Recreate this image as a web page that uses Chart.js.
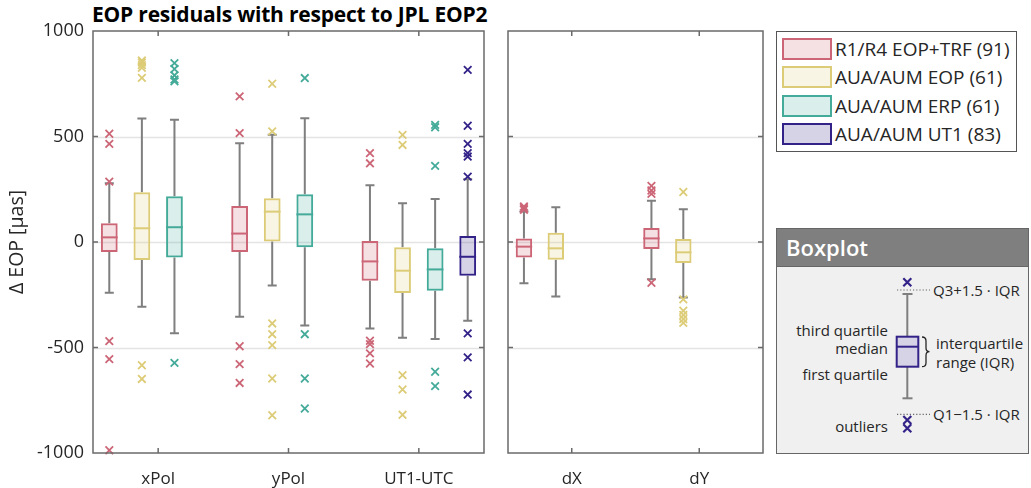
<!DOCTYPE html>
<html><head><meta charset="utf-8">
<script src="https://cdn.jsdelivr.net/npm/chart.js@4.4.0/dist/chart.umd.min.js"></script>
<style>
body{margin:0;width:1031px;height:488px;background:#fff;position:relative;overflow:hidden;font-family:"Open Sans",sans-serif;color:#262626}
#title{position:absolute;left:92px;top:0;font-weight:700;font-size:21px;color:#000;line-height:29px;white-space:nowrap;letter-spacing:-0.2px}
#c1wrap{position:absolute;left:0;top:0;width:490px;height:488px}
#c2wrap{position:absolute;left:500px;top:0;width:270px;height:488px}
#legend{position:absolute;left:776px;top:31px;width:241px;height:121px;border:1px solid #555;background:#fff;box-sizing:border-box}
.row{position:absolute;left:5px;height:22px;white-space:nowrap}
.sw{position:absolute;left:0;top:0;width:50px;height:22px;box-sizing:border-box;border:2px solid}
.lt{position:absolute;left:53px;top:-4px;font-size:19px;line-height:30px;color:#262626}
#bp{position:absolute;left:776px;top:228px}
</style></head>
<body>
<div id="title">EOP residuals with respect to JPL EOP2</div>
<div id="c1wrap"><canvas id="c1"></canvas></div>
<div id="c2wrap"><canvas id="c2"></canvas></div>
<div id="legend"></div>
<div id="bp">
<svg width="254" height="226" xmlns="http://www.w3.org/2000/svg" font-family="Open Sans" fill="#262626">
 <rect x="0.5" y="0.5" width="252" height="225" fill="#f0f0f0" stroke="#666"/>
 <rect x="0.5" y="0.5" width="252" height="38" fill="#7f7f7f" stroke="#666"/>
 <text x="10" y="28" fill="#fff" font-size="22" font-weight="600">Boxplot</text>
 <line x1="121" y1="62" x2="154" y2="62" stroke="#666" stroke-width="1.2" stroke-dasharray="1.2,2"/>
 <line x1="121" y1="186.3" x2="154" y2="186.3" stroke="#666" stroke-width="1.2" stroke-dasharray="1.2,2"/>
 <line x1="131.3" y1="66" x2="131.3" y2="108.7" stroke="#7f7f7f" stroke-width="2"/>
 <line x1="131.3" y1="138.7" x2="131.3" y2="170.3" stroke="#7f7f7f" stroke-width="2"/>
 <line x1="126.5" y1="66" x2="136.5" y2="66" stroke="#7f7f7f" stroke-width="2"/>
 <line x1="126.5" y1="170.3" x2="136.5" y2="170.3" stroke="#7f7f7f" stroke-width="2"/>
 <rect x="120.7" y="108.7" width="21.6" height="30" fill="#d6d3e7" stroke="#332288" stroke-width="2"/>
 <line x1="120.7" y1="118.7" x2="142.3" y2="118.7" stroke="#332288" stroke-width="2"/>
 <g stroke="#332288" stroke-width="2.2">
  <path d="M127.3,50.3 L135.3,58.3 M135.3,50.3 L127.3,58.3"/>
  <path d="M127.3,188 L135.3,196 M135.3,188 L127.3,196"/>
  <path d="M127.3,196.3 L135.3,204.3 M135.3,196.3 L127.3,204.3"/>
 </g>
 <path d="M146,109 Q150,109 150,113 L150,120 Q150,123.7 153.5,123.7 Q150,123.7 150,127.4 L150,134.7 Q150,138.7 146,138.7" stroke="#262626" stroke-width="1.3" fill="none"/>
 <g font-size="15" dominant-baseline="central">
  <text x="112" y="102" text-anchor="end">third quartile</text>
  <text x="112" y="120" text-anchor="end">median</text>
  <text x="112" y="145.5" text-anchor="end">first quartile</text>
  <text x="112" y="198" text-anchor="end">outliers</text>
  <text x="157" y="62">Q3+1.5 · IQR</text>
  <text x="157" y="186.3">Q1−1.5 · IQR</text>
  <text x="160" y="114.7">interquartile</text>
  <text x="160" y="133.7">range (IQR)</text>
 </g>
</svg>
</div>
<script>
// ---- data (µas) ----
const categories = ['xPol', 'yPol', 'UT1-UTC', 'dX', 'dY'];
const seriesLabels = ['R1/R4 EOP+TRF (91)', 'AUA/AUM EOP (61)', 'AUA/AUM ERP (61)', 'AUA/AUM UT1 (83)'];
const seriesColors = ['#CC6677', '#DDCC77', '#44AA99', '#332288'];
const seriesFills = ['rgba(204,102,119,0.2)', 'rgba(221,204,119,0.2)', 'rgba(68,170,153,0.2)', 'rgba(51,34,136,0.2)'];
const yTicks = [-1000, -500, 0, 500, 1000];
// per series, per category
const lowWhisker = [
  [-240, -354, -410, -196, -176],
  [-307, -206, -454, -258, -263],
  [-433, -396, -460, null, null],
  [null, null, -373, null, null]
];
const quartile1 = [
  [-47, -47, -184, -73, -33],
  [-85, 2, -242, -84, -100],
  [-73, -25, -231, null, null],
  [null, null, -160, null, null]
];
const medians = [
  [22, 40, -92, -22, 17],
  [65, 144, -136, -30, -49],
  [70, 131, -130, null, null],
  [null, null, -70, null, null]
];
const quartile3 = [
  [89, 171, 5, 16, 66],
  [236, 207, -25, 44, 14],
  [217, 226, -30, null, null],
  [null, null, 28, null, null]
];
const highWhisker = [
  [278, 468, 269, 145, 195],
  [585, 508, 184, 165, 155],
  [579, 587, 204, null, null],
  [null, null, 297, null, null]
];
const outliers = [
  [[513, 465, 286, -470, -555, -987], [690, 516, -494, -579, -668], [421, 373, -468, -484, -528, -576], [168, 160, 153], [266, 244, 228, -193]],
  [[860, 850, 838, 826, 778, -584, -649], [750, 524, -386, -437, -489, -647, -821], [508, 460, -631, -699, -819], [], [237, -272, -326, -346, -365, -383]],
  [[848, 820, 790, 770, 762, -573], [777, -437, -647, -789], [555, 544, 361, -615, -683], [], []],
  [[], [], [816, 551, 465, 421, 405, 310, -433, -547, -723], [], []]
];

// ---- legend ----
const lg = document.getElementById('legend');
seriesLabels.forEach((lab, s) => {
  const r = document.createElement('div');
  r.className = 'row';
  r.style.top = (6 + s * 28.3) + 'px';
  r.innerHTML = '<div class="sw" style="border-color:' + seriesColors[s] + ';background:' + seriesFills[s] + '"></div><div class="lt">' + lab + '</div>';
  lg.appendChild(r);
});

const FONT = '"Open Sans", sans-serif';
const TXT = '#262626';

function makePlugin(catIdx) {
  return {
    id: 'boxplotDraw',
    beforeDatasetsDraw(chart) {
      const {ctx, chartArea: a, scales: {y}} = chart;
      ctx.save();
      ctx.strokeStyle = '#e4e4e4';
      ctx.lineWidth = 1.5;
      [500, 0, -500].forEach(v => {
        const py = Math.round(y.getPixelForValue(v)) + 0.5;
        ctx.beginPath(); ctx.moveTo(a.left, py); ctx.lineTo(a.right, py); ctx.stroke();
      });
      ctx.strokeStyle = '#7f7f7f';
      ctx.lineWidth = 2;
      for (let s = 0; s < seriesLabels.length; s++) {
        const meta = chart.getDatasetMeta(s);
        catIdx.forEach((gi, i) => {
          if (quartile1[s][gi] == null) return;
          const el = meta.data[i];
          const x = el.x;
          const yl = y.getPixelForValue(lowWhisker[s][gi]);
          const yh = y.getPixelForValue(highWhisker[s][gi]);
          const y1 = y.getPixelForValue(quartile1[s][gi]);
          const y3 = y.getPixelForValue(quartile3[s][gi]);
          ctx.beginPath();
          ctx.moveTo(x, yh); ctx.lineTo(x, y3);
          ctx.moveTo(x, y1); ctx.lineTo(x, yl);
          ctx.moveTo(x - 4.5, yh); ctx.lineTo(x + 4.5, yh);
          ctx.moveTo(x - 4.5, yl); ctx.lineTo(x + 4.5, yl);
          ctx.stroke();
        });
      }
      ctx.restore();
    },
    afterDatasetsDraw(chart) {
      const {ctx, scales: {y}} = chart;
      ctx.save();
      for (let s = 0; s < seriesLabels.length; s++) {
        const meta = chart.getDatasetMeta(s);
        catIdx.forEach((gi, i) => {
          if (quartile1[s][gi] == null) return;
          const el = meta.data[i];
          const x = el.x, w = el.width;
          ctx.strokeStyle = seriesColors[s];
          ctx.lineWidth = 2;
          const ym = y.getPixelForValue(medians[s][gi]);
          ctx.beginPath(); ctx.moveTo(x - w / 2, ym); ctx.lineTo(x + w / 2, ym); ctx.stroke();
          ctx.lineWidth = 1.8;
          outliers[s][gi].forEach(v => {
            const py = y.getPixelForValue(v);
            const h = 3.8;
            ctx.beginPath();
            ctx.moveTo(x - h, py - h); ctx.lineTo(x + h, py + h);
            ctx.moveTo(x + h, py - h); ctx.lineTo(x - h, py + h);
            ctx.stroke();
          });
        });
      }
      ctx.restore();
    },
    afterDraw(chart) {
      const {ctx, chartArea: a, scales: {x, y}} = chart;
      ctx.save();
      ctx.strokeStyle = '#6a6a6a';
      ctx.lineWidth = 1.5;
      ctx.strokeRect(a.left, a.top, a.right - a.left, a.bottom - a.top);
      ctx.beginPath();
      [500, 0, -500].forEach(v => {
        const py = y.getPixelForValue(v);
        ctx.moveTo(a.left, py); ctx.lineTo(a.left + 5, py);
        ctx.moveTo(a.right, py); ctx.lineTo(a.right - 5, py);
      });
      catIdx.forEach((gi, i) => {
        const px = x.getPixelForTick(i);
        ctx.moveTo(px, a.top); ctx.lineTo(px, a.top + 5);
        ctx.moveTo(px, a.bottom); ctx.lineTo(px, a.bottom - 5);
      });
      ctx.stroke();
      ctx.restore();
    }
  };
}

function makeChart(id, catIdx, isLeft) {
  const datasets = seriesLabels.map((lab, s) => ({
    label: lab,
    data: catIdx.map(gi => quartile1[s][gi] == null ? null : [quartile1[s][gi], quartile3[s][gi]]),
    backgroundColor: seriesFills[s],
    borderColor: seriesColors[s],
    borderWidth: 2,
    borderSkipped: false,
    barPercentage: 0.515,
    categoryPercentage: 1.0
  }));
  return new Chart(document.getElementById(id), {
    type: 'bar',
    data: {labels: catIdx.map(gi => categories[gi]), datasets},
    options: {
      responsive: true,
      maintainAspectRatio: false,
      animation: false,
      events: [],
      layout: {padding: isLeft ? {top: 31, right: 6, left: 0, bottom: 0} : {top: 31, right: 7, left: 8, bottom: 0}},
      plugins: {legend: {display: false}, tooltip: {enabled: false}, title: {display: false}},
      scales: {
        x: {
          type: 'category',
          offset: true,
          grid: {display: false, drawTicks: false},
          border: {display: false},
          ticks: {font: {family: FONT, size: 17}, color: TXT, padding: 16, maxRotation: 0},
          afterFit(sc) { sc.height = 35; }
        },
        y: {
          display: isLeft,
          min: -1000, max: 1000,
          afterBuildTicks(sc) { sc.ticks = yTicks.map(v => ({value: v})); },
          grid: {display: false, drawTicks: false},
          border: {display: false},
          ticks: {font: {family: FONT, size: 18}, color: TXT, padding: 9, callback: v => String(v)},
          title: {display: isLeft, text: 'Δ EOP [µas]', font: {family: FONT, size: 19.5}, color: TXT, padding: {top: 6, bottom: 0}},
          afterFit(sc) { sc.width = isLeft ? 93 : 0; }
        }
      }
    },
    plugins: [makePlugin(catIdx)]
  });
}

makeChart('c1', [0, 1, 2], true);
makeChart('c2', [3, 4], false);
</script>
</body></html>
